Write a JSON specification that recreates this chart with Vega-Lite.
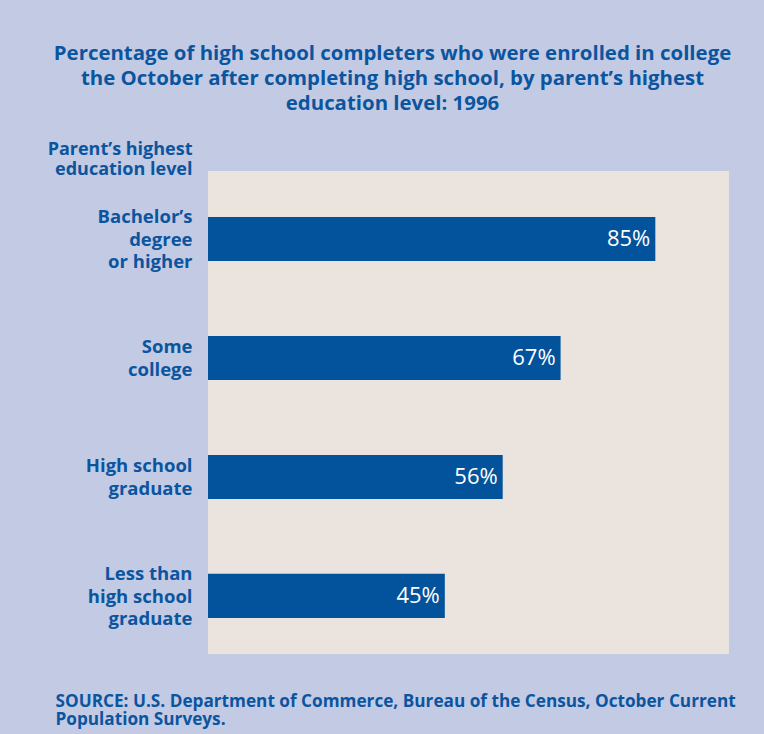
{
  "$schema": "https://vega.github.io/schema/vega-lite/v6.json",
  "width": 521,
  "height": 483,
  "autosize": {"type": "none"},
  "padding": {"left": 208, "top": 171, "right": 35, "bottom": 80},
  "background": "#c3cae4",
  "title": {
    "text": ["Percentage of high school completers who were enrolled in college", "the October after completing high school, by parent’s highest", "education level: 1996"],
    "anchor": "middle",
    "frame": "group",
    "dx": -76,
    "dy": -22,
    "font": "Open Sans",
    "fontSize": 20.4,
    "fontWeight": "bold",
    "lineHeight": 25,
    "color": "#0b559f"
  },
  "config": {
    "view": {"fill": "#ebe3de", "stroke": null},
    "font": "Open Sans"
  },
  "data": {
    "values": [
      {"level": "Bachelor’s|degree|or higher", "pct": 85, "label": "85%"},
      {"level": "Some|college", "pct": 67, "label": "67%"},
      {"level": "High school|graduate", "pct": 56, "label": "56%"},
      {"level": "Less than|high school|graduate", "pct": 45, "label": "45%"}
    ]
  },
  "encoding": {
    "y": {
      "field": "level",
      "type": "nominal",
      "sort": null,
      "scale": {"paddingInner": 0.63, "paddingOuter": 0.345, "align": 0.56},
      "axis": {
        "title": ["Parent’s highest", "education level"],
        "titleAngle": 0,
        "titleAlign": "right",
        "titleBaseline": "alphabetic",
        "titleX": -16,
        "titleY": -17,
        "titleFont": "Open Sans",
        "titleFontSize": 18,
        "titleFontWeight": "bold",
        "titleColor": "#0b559f",
        "titleLineHeight": 20,
        "labelExpr": "split(datum.label, '|')",
        "labelFont": "Open Sans",
        "labelFontSize": 18.5,
        "labelFontWeight": "bold",
        "labelColor": "#0b559f",
        "labelLineHeight": 22.5,
        "labelPadding": 16,
        "labelOffset": {"condition": {"test": "length(split(datum.value, '|')) > 2", "value": -21.5}, "value": -10.5},
        "ticks": false,
        "domain": false,
        "grid": false
      }
    },
    "x": {
      "field": "pct",
      "type": "quantitative",
      "scale": {"domain": [0, 99], "nice": false},
      "axis": {
        "title": ["SOURCE: U.S. Department of Commerce, Bureau of the Census, October Current", "Population Surveys."],
        "titleX": -153,
        "titleY": 52,
        "titleAlign": "left",
        "titleAnchor": null,
        "titleBaseline": "alphabetic",
        "titleFont": "Open Sans",
        "titleFontSize": 17.2,
        "titleFontWeight": "bold",
        "titleColor": "#0b559f",
        "titleLineHeight": 18,
        "labels": false,
        "ticks": false,
        "domain": false,
        "grid": false
      }
    }
  },
  "layer": [
    {"mark": {"type": "bar", "color": "#02539b"}},
    {
      "mark": {"type": "text", "align": "right", "dx": -5, "color": "white", "font": "Open Sans", "fontSize": 22, "fontWeight": 500},
      "encoding": {"text": {"field": "label"}}
    }
  ]
}
